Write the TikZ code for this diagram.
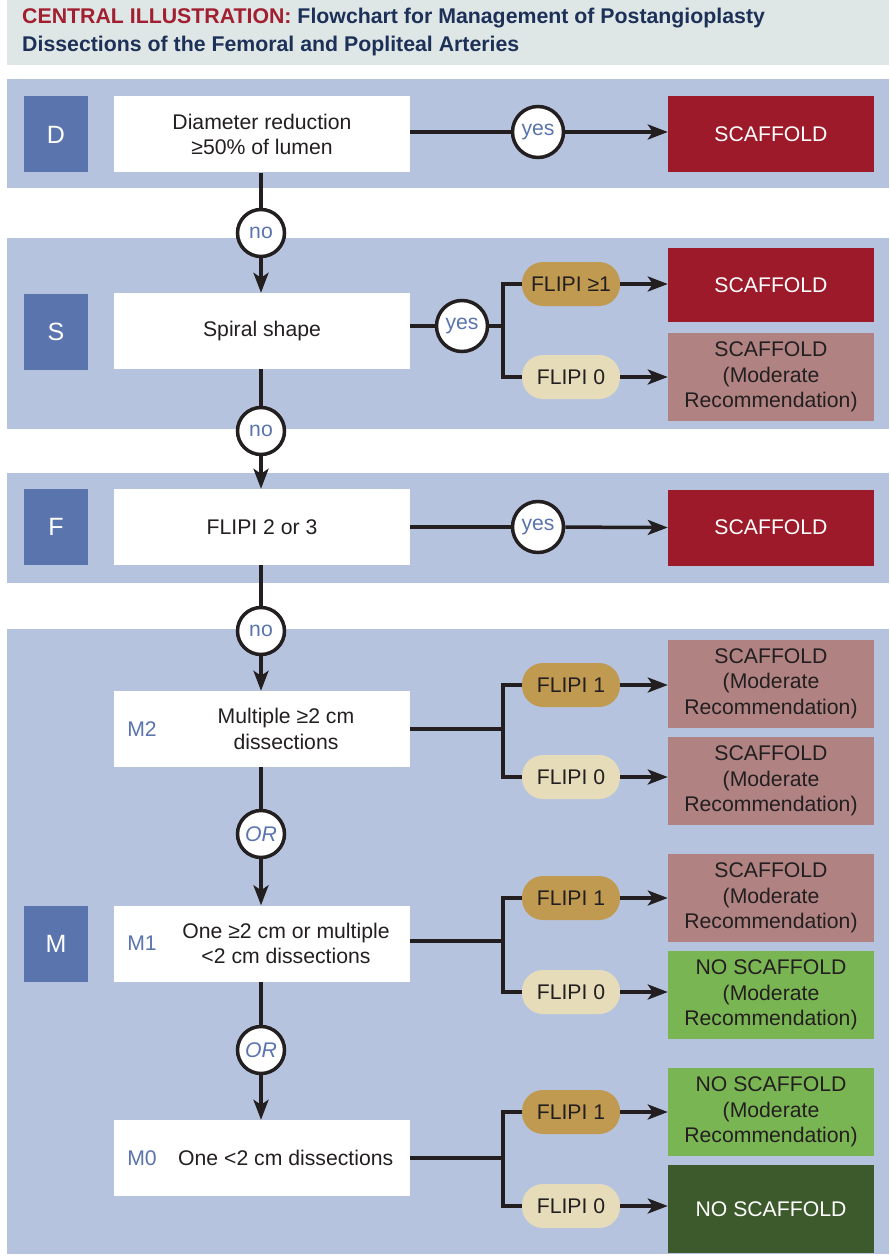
\documentclass[tikz,border=0pt]{standalone}
\usepackage{fontspec}
\setmainfont{Liberation Sans}
\usetikzlibrary{arrows.meta}
\definecolor{titlebg}{HTML}{DFE7E6}
\definecolor{titlered}{HTML}{A11F30}
\definecolor{titlenavy}{HTML}{1D3158}
\definecolor{panelc}{HTML}{B6C3DE}
\definecolor{letterc}{HTML}{5A74AE}
\definecolor{labc}{HTML}{5A74AE}
\definecolor{redc}{HTML}{9C1A29}
\definecolor{mauvec}{HTML}{B08282}
\definecolor{greenc}{HTML}{7AB553}
\definecolor{dgreenc}{HTML}{3D5A2D}
\definecolor{goldc}{HTML}{C09A50}
\definecolor{creamc}{HTML}{E6DCBA}
\definecolor{txtc}{HTML}{231F20}
\begin{document}
\begin{tikzpicture}[x=1pt,y=-1pt,
  font=\fontsize{21.2}{25.5}\selectfont, text=txtc,
  panel/.style={fill=panelc,draw=none},
  letterbox/.style={fill=letterc,text=white,minimum width=64pt,minimum height=76pt,inner sep=0pt,font=\fontsize{25}{28}\selectfont},
  qbox/.style={fill=white,minimum width=296pt,minimum height=76pt,align=center,inner sep=0pt},
  resbox/.style={minimum width=206pt,minimum height=88pt,align=center,inner sep=0pt},
  resred/.style={resbox,fill=redc,text=white,minimum height=76pt},
  resmauve/.style={resbox,fill=mauvec},
  resgreen/.style={resbox,fill=greenc},
  resdgreen/.style={resbox,fill=dgreenc,text=white},
  pill/.style={rounded corners=21pt,minimum width=98pt,minimum height=44pt,inner sep=0pt},
  pillgold/.style={pill,fill=goldc},
  pillcream/.style={pill,fill=creamc},
  circ/.style={circle,draw=txtc,line width=3.5pt,fill=white,minimum size=47pt,inner sep=0pt,text=labc},
  ycirc/.style={circ,minimum size=51pt},
  mlab/.style={text=labc,inner sep=0pt},
  flow/.style={line width=3.5pt,draw=txtc},
  arr/.style={flow,-{Stealth[length=20pt,width=15pt,inset=5pt]}}
]
\useasboundingbox (0,0) rectangle (889,1257);
% title
\fill[titlebg] (7,0) rectangle (889,65);
\node[anchor=west,inner sep=0pt,align=left,font=\bfseries\fontsize{21.3}{28}\selectfont] (title) at (22,32)
  {\textcolor{titlered}{CENTRAL ILLUSTRATION:} \textcolor{titlenavy}{Flowchart for Management of Postangioplasty}\\
   \textcolor{titlenavy}{Dissections of the Femoral and Popliteal Arteries}};
% panels
\fill[panel] (7,79) rectangle (889,188);
\fill[panel] (7,238) rectangle (889,429);
\fill[panel] (7,473) rectangle (889,583);
\fill[panel] (7,629) rectangle (889,1254);
% letter boxes
\node[letterbox] (Dl) at (56,134.5) {D};
\node[letterbox] (Sl) at (56,332) {S};
\node[letterbox] (Fl) at (56,527) {F};
\node[letterbox] (Ml) at (56,943.5) {M};
% question boxes
\node[qbox] (D) at (262,134.5) {Diameter reduction\\≥50\% of lumen};
\node[qbox] (S) at (262,331) {Spiral shape};
\node[qbox] (F) at (262,527) {FLIPI 2 or 3};
\node[qbox] (M2) at (262,729) {};
\node[qbox] (M1) at (262,943.5) {};
\node[qbox] (M0) at (262,1158) {};
\node[mlab] (M2l) at (142,729) {M2};
\node[align=center,inner sep=0pt] (M2t) at (286,729) {Multiple ≥2 cm\\dissections};
\node[mlab] (M1l) at (142,943.5) {M1};
\node[align=center,inner sep=0pt] (M1t) at (286,943.5) {One ≥2 cm or multiple\\<2 cm dissections};
\node[mlab] (M0l) at (142,1158) {M0};
\node[anchor=west,inner sep=0pt] (M0t) at (178,1158) {One <2 cm dissections};
% results
\node[resred] (Dr) at (771,134.5) {SCAFFOLD};
\node[resred,minimum height=74pt] (Sr1) at (771,285) {SCAFFOLD};
\node[resmauve] (Sr2) at (771,377) {SCAFFOLD\\(Moderate\\Recommendation)};
\node[resred] (Fr) at (771,527.5) {SCAFFOLD};
\node[resmauve] (M2r1) at (771,683.5) {SCAFFOLD\\(Moderate\\Recommendation)};
\node[resmauve] (M2r2) at (771,781) {SCAFFOLD\\(Moderate\\Recommendation)};
\node[resmauve] (M1r1) at (771,898) {SCAFFOLD\\(Moderate\\Recommendation)};
\node[resgreen] (M1r2) at (771,995) {NO SCAFFOLD\\(Moderate\\Recommendation)};
\node[resgreen] (M0r1) at (771,1112) {NO SCAFFOLD\\(Moderate\\Recommendation)};
\node[resdgreen] (M0r2) at (771,1209) {NO SCAFFOLD};
% pills
\node[pillgold] (Sp1) at (571,284) {FLIPI ≥1};
\node[pillcream] (Sp2) at (571,377) {FLIPI 0};
\node[pillgold] (M2p1) at (571,685) {FLIPI 1};
\node[pillcream] (M2p2) at (571,777) {FLIPI 0};
\node[pillgold] (M1p1) at (571,898) {FLIPI 1};
\node[pillcream] (M1p2) at (571,992) {FLIPI 0};
\node[pillgold] (M0p1) at (571,1112) {FLIPI 1};
\node[pillcream] (M0p2) at (571,1206) {FLIPI 0};
% circles
\node[ycirc] (yD) at (538,132) {yes};
\node[ycirc] (yS) at (462,326) {yes};
\node[ycirc] (yF) at (538,527) {yes};
\node[circ] (n1) at (261,233) {no};
\node[circ] (n2) at (261,431) {no};
\node[circ] (n3) at (261,631) {no};
\node[circ] (or1) at (261,834) {\itshape OR};
\node[circ] (or2) at (261,1050) {\itshape OR};
% branch points
\coordinate (bS) at (503,326);
\coordinate (bM2) at (503,729);
\coordinate (bM1) at (503,941);
\coordinate (bM0) at (503,1158);
% connectors: yes rows
\draw[flow] (D.east |- yD) -- (yD);
\draw[arr] (yD) -- (Dr.west |- yD);
\draw[flow] (F.east) -- (yF);
\draw[arr] (yF) -- (Fr.west);
\draw[flow] (S.east |- yS) -- (yS);
\draw[flow] (yS) -- (bS);
\draw[flow] (bS) |- (Sp1.west);
\draw[flow] (bS) |- (Sp2.west);
\draw[arr] (Sp1.east) -- (Sp1.east -| Sr1.west);
\draw[arr] (Sp2.east) -- (Sp2.east -| Sr2.west);
% vertical flow
\draw[flow] (D.south -| n1) -- (n1);
\draw[arr] (n1) -- (S.north -| n1);
\draw[flow] (S.south -| n2) -- (n2);
\draw[arr] (n2) -- (F.north -| n2);
\draw[flow] (F.south -| n3) -- (n3);
\draw[arr] (n3) -- (M2.north -| n3);
\draw[flow] (M2.south -| or1) -- (or1);
\draw[arr] (or1) -- (M1.north -| or1);
\draw[flow] (M1.south -| or2) -- (or2);
\draw[arr] (or2) -- (M0.north -| or2);
% M branches
\draw[flow] (M2.east |- bM2) -- (bM2);
\draw[flow] (bM2) |- (M2p1.west);
\draw[flow] (bM2) |- (M2p2.west);
\draw[arr] (M2p1.east) -- (M2p1.east -| M2r1.west);
\draw[arr] (M2p2.east) -- (M2p2.east -| M2r2.west);
\draw[flow] (M1.east |- bM1) -- (bM1);
\draw[flow] (bM1) |- (M1p1.west);
\draw[flow] (bM1) |- (M1p2.west);
\draw[arr] (M1p1.east) -- (M1p1.east -| M1r1.west);
\draw[arr] (M1p2.east) -- (M1p2.east -| M1r2.west);
\draw[flow] (M0.east |- bM0) -- (bM0);
\draw[flow] (bM0) |- (M0p1.west);
\draw[flow] (bM0) |- (M0p2.west);
\draw[arr] (M0p1.east) -- (M0p1.east -| M0r1.west);
\draw[arr] (M0p2.east) -- (M0p2.east -| M0r2.west);
\end{tikzpicture}
\end{document}
